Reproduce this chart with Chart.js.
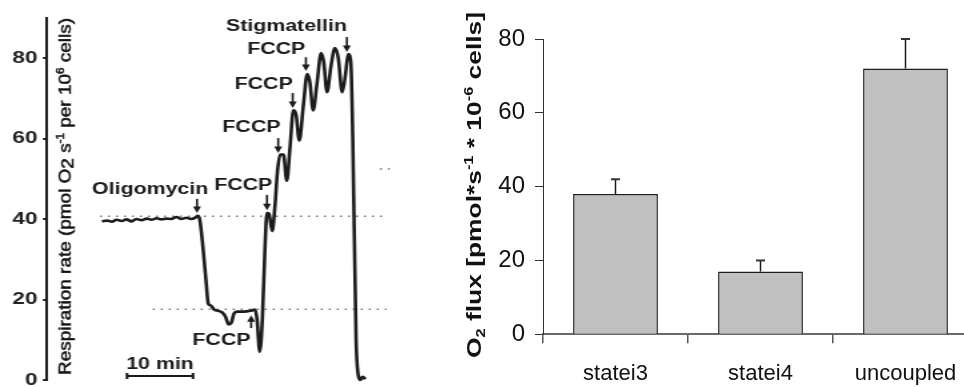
<!DOCTYPE html>
<html>
<head>
<meta charset="utf-8">
<script src="https://cdn.jsdelivr.net/npm/chart.js@4.4.1/dist/chart.umd.min.js"></script>
<style>
  html, body { margin: 0; padding: 0; background: #fff; width: 964px; height: 387px; overflow: hidden; }
  /* the original trace panel is stretched sideways, so draw it narrow and widen it */
  #trace { position: absolute; left: 0; top: 0; transform: scaleX(1.3333); transform-origin: 0 0; }
  #flux { position: absolute; left: 455px; top: 0; }
</style>
</head>
<body>
<canvas id="trace" width="315" height="387"></canvas>
<canvas id="flux" width="530" height="387"></canvas>
<script>
const FONT = '"Liberation Sans", Arial, sans-serif';

// left panel: respiration trace (time in min, rate in pmol O2/s per 10^6 cells)
const traceMin = [0, 0.8, 1.5, 2.2, 3, 3.7, 4.5, 5.2, 6, 6.8, 7.5, 8.3, 9, 9.8, 10.5, 11.3, 12, 12.8, 13.5, 14.2, 14.5,
  14.8, 15.3, 15.8, 16.1, 16.5, 17, 17.6, 18.2, 18.7, 19.2, 19.6, 20, 20.5, 21.5, 22.5, 23.2, 23.5, 23.9, 24.3, 24.7,
  25.0, 25.3, 25.8, 26.2, 26.6, 27, 27.5, 28, 28.5, 29, 29.4, 29.9, 30.5, 31.1, 31.5, 32, 32.6, 33.2, 33.6, 34.1,
  34.7, 35.3, 35.8, 36.4, 36.9, 37.3, 37.7, 38.0, 38.5, 38.8, 39.1, 39.5, 39.9];
const traceRate = [39.4, 39.6, 39.3, 39.8, 39.5, 39.9, 39.4, 40.0, 39.7, 40.1, 39.8, 40.2, 39.9, 40.1, 40.0, 40.5, 40.0, 40.3, 40.0, 40.4, 40.8,
  40, 33, 24, 19, 18.5, 17.5, 17.2, 16.8, 15.8, 13.8, 14.2, 16.5, 17, 17, 17.2, 17.5, 15, 7, 15, 33,
  41.5, 41.3, 37, 43, 52, 56, 56, 49.5, 58, 67, 66, 59.5, 68, 76, 74, 67, 74, 81.2, 79, 71.5,
  78, 82.5, 80, 71.5, 76, 81, 79, 60, 10, 1.5, 0, 0.8, 0.2];

// dotted reference levels
const dotRate = [40.7, 17.6, 52.4];
const dotFrom = [-0.3, 7.7, 42.1];
const dotTo = [43.3, 43.1, 43.6];

// additions: arrow at agentMin from arrowFrom to arrowTo, label centred at labelMin/labelRate
const agents = ['Oligomycin', 'FCCP', 'FCCP', 'FCCP', 'FCCP', 'FCCP', 'Stigmatellin'];
const agentMin = [14.4, 22.6, 25.0, 26.7, 28.9, 30.9, 37.1];
const arrowFrom = [45, 12.9, 46, 60.1, 71.3, 80.2, 85.2];
const arrowTo = [41.5, 16.1, 42.2, 56.4, 67.6, 76.8, 81.5];
const labelMin = [7.3, 18.1, 21.4, 22.65, 24.5, 26.4, 27.95];
const labelRate = [47.2, 9.9, 48.4, 62.6, 73.3, 82.2, 87.7];

const scaleBarStart = 3.8, scaleBarLen = 10, scaleBarRate = 1.0;

// right panel: O2 flux
const states = ['statei3', 'statei4', 'uncoupled'];
const fluxMean = [38, 17, 72];
const fluxErr = [4, 3, 8];

const traceTitle = [
  { t: 'Respiration rate (pmol O', k: 'n' }, { t: '2', k: 'low' }, { t: ' s', k: 'n' }, { t: '-1', k: 'sup' },
  { t: ' per 10', k: 'n' }, { t: '6', k: 'sup' }, { t: ' cells)', k: 'n' }
];
const fluxTitle = [
  { t: 'O', k: 'n' }, { t: '2', k: 'sub' }, { t: ' flux [pmol*s', k: 'n' }, { t: '-1', k: 'sup' },
  { t: ' * 10', k: 'n' }, { t: '-6', k: 'sup' }, { t: ' cells]', k: 'n' }
];

function drawRich(ctx, parts, cx, cy, o) {
  const sizeOf = (p) => p.k === 'sup' || p.k === 'sub' ? o.size * 0.62 : o.size;
  const font = (p) => `${o.weight} ${sizeOf(p)}px ${FONT}`;
  ctx.save();
  ctx.translate(cx, cy);
  ctx.rotate(-Math.PI / 2);
  const widths = parts.map(p => { ctx.font = font(p); return ctx.measureText(p.t).width; });
  const total = widths.reduce((a, b) => a + b, 0);
  ctx.scale(o.length / total, o.squash || 1);
  ctx.fillStyle = ctx.strokeStyle = o.color;
  ctx.lineWidth = o.stroke || 0;
  ctx.textAlign = 'left';
  ctx.textBaseline = 'alphabetic';
  const base = o.size * 0.36;
  let px = -total / 2;
  parts.forEach((p, i) => {
    ctx.font = font(p);
    const dy = p.k === 'sup' ? -o.size * 0.42 : p.k === 'sub' ? o.size * 0.18 : p.k === 'low' ? o.size * 0.1 : 0;
    ctx.fillText(p.t, px, base + dy);
    if (o.stroke) ctx.strokeText(p.t, px, base + dy);
    px += widths[i];
  });
  ctx.restore();
}

function arrow(ctx, x, y0, y1) {
  const dir = Math.sign(y1 - y0);
  ctx.beginPath();
  ctx.moveTo(x, y0);
  ctx.lineTo(x, y1 - dir * 5);
  ctx.stroke();
  ctx.beginPath();
  ctx.moveTo(x - 3, y1 - dir * 6.5);
  ctx.lineTo(x + 3, y1 - dir * 6.5);
  ctx.lineTo(x, y1);
  ctx.closePath();
  ctx.fill();
}

const traceMarks = {
  id: 'traceMarks',
  afterDatasetsDraw(chart) {
    const { ctx, scales: { x, y } } = chart;
    ctx.save();
    ctx.fillStyle = ctx.strokeStyle = '#1a1a1a';
    ctx.lineWidth = 1.6;
    ctx.font = `bold 16px ${FONT}`;
    ctx.textAlign = 'center';
    ctx.textBaseline = 'middle';
    agents.forEach((a, i) => {
      ctx.fillText(a, x.getPixelForValue(labelMin[i]), y.getPixelForValue(labelRate[i]));
      arrow(ctx, x.getPixelForValue(agentMin[i]), y.getPixelForValue(arrowFrom[i]), y.getPixelForValue(arrowTo[i]));
    });
    // 10 min scale bar
    const bx0 = x.getPixelForValue(scaleBarStart), bx1 = x.getPixelForValue(scaleBarStart + scaleBarLen);
    const by = y.getPixelForValue(scaleBarRate);
    ctx.lineWidth = 2;
    ctx.beginPath();
    ctx.moveTo(bx0, by); ctx.lineTo(bx1, by);
    ctx.moveTo(bx0, by - 3); ctx.lineTo(bx0, by + 3);
    ctx.moveTo(bx1, by - 3); ctx.lineTo(bx1, by + 3);
    ctx.stroke();
    ctx.fillText('10 min', (bx0 + bx1) / 2, by - 11);
    ctx.restore();
    drawRich(ctx, traceTitle, 48.5, 196.5, { size: 18, weight: 'normal', length: 357, squash: 0.75, color: '#151515', stroke: 0.6 });
  }
};

const errBars = {
  id: 'errBars',
  afterDatasetsDraw(chart) {
    const { ctx, scales: { y } } = chart;
    const meta = chart.getDatasetMeta(0);
    ctx.save();
    meta.data.forEach((bar, i) => {
      const y0 = y.getPixelForValue(fluxMean[i]);
      const y1 = y.getPixelForValue(fluxMean[i] + fluxErr[i]);
      ctx.strokeStyle = '#1a1a1a';
      ctx.lineWidth = 1.5;
      ctx.beginPath();
      ctx.moveTo(bar.x, y0); ctx.lineTo(bar.x, y1);
      ctx.stroke();
      ctx.lineWidth = 2;
      ctx.strokeStyle = '#333';
      ctx.beginPath();
      ctx.moveTo(bar.x - 4.5, y1); ctx.lineTo(bar.x + 4.5, y1);
      ctx.stroke();
    });
    ctx.restore();
    drawRich(ctx, fluxTitle, 19, 185, { size: 20, weight: 'bold', length: 346, color: '#111' });
  }
};

new Chart(document.getElementById('trace'), {
  type: 'line',
  data: {
    datasets: [
      {
        data: traceMin.map((t, i) => ({ x: t, y: traceRate[i] })),
        borderColor: '#1c1c1c', borderWidth: 2.6, pointRadius: 0,
        cubicInterpolationMode: 'monotone', clip: 6
      },
      ...dotRate.map((r, i) => ({
        data: [{ x: dotFrom[i], y: r }, { x: dotTo[i], y: r }],
        borderColor: '#777', borderWidth: 1.5, borderDash: [1.5, 4.5], pointRadius: 0
      }))
    ]
  },
  options: {
    responsive: false, animation: false, events: [],
    plugins: { legend: { display: false }, tooltip: { enabled: false } },
    layout: { padding: { left: 0, top: 17.75, right: 15, bottom: 7 } },
    scales: {
      x: { type: 'linear', min: -8.33, max: 45.15, display: false },
      y: {
        min: 0, max: 90,
        afterFit: (s) => { s.width = 35.25; s.paddingTop = 0; s.paddingBottom = 0; },
        border: { color: '#1c1c1c', width: 2 },
        grid: { drawOnChartArea: false, tickLength: 3, color: '#1c1c1c', lineWidth: 2 },
        ticks: { stepSize: 20, includeBounds: false, padding: 4, color: '#222', font: { family: FONT, size: 17, weight: 'bold' } }
      }
    }
  },
  plugins: [traceMarks]
});

new Chart(document.getElementById('flux'), {
  type: 'bar',
  data: {
    labels: states,
    datasets: [{
      data: fluxMean, backgroundColor: '#c0c0c0', borderColor: '#1e1e1e', borderWidth: 1.5,
      categoryPercentage: 1, barPercentage: 0.585
    }]
  },
  options: {
    responsive: false, animation: false, events: [],
    plugins: { legend: { display: false }, tooltip: { enabled: false } },
    layout: { padding: { left: 0, top: 39, right: 7, bottom: 0 } },
    scales: {
      x: {
        afterFit: (s) => { s.height = 52.7; s.paddingLeft = 0; s.paddingRight = 0; },
        border: { color: '#6a6a6a', width: 2 },
        grid: { offset: true, drawOnChartArea: false, tickLength: 9, color: '#555', lineWidth: 1.5 },
        ticks: { padding: 17, color: '#111', font: { family: FONT, size: 22 } }
      },
      y: {
        min: 0, max: 80,
        afterFit: (s) => { s.width = 88; s.paddingTop = 0; s.paddingBottom = 0; },
        border: { color: '#333', width: 1 },
        grid: { drawOnChartArea: false, tickLength: 8, color: '#333' },
        ticks: { stepSize: 20, padding: 10, color: '#111', font: { family: FONT, size: 24 } }
      }
    }
  },
  plugins: [errBars]
});
</script>
</body>
</html>
